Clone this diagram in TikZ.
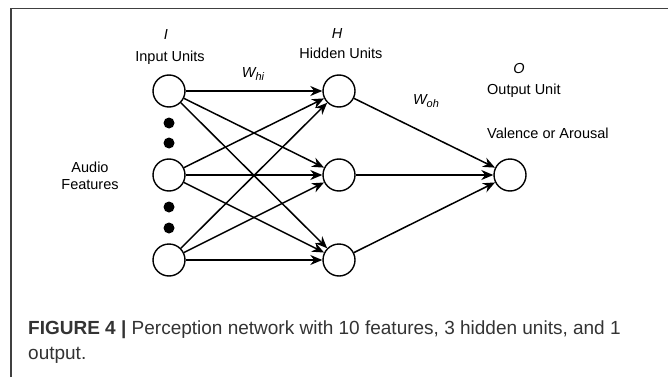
\documentclass[tikz,border=0pt]{standalone}
\usepackage{fontspec}
\setmainfont{Liberation Sans}
\usetikzlibrary{arrows.meta}
\begin{document}
\begin{tikzpicture}[x=1pt,y=-1pt,
  unit/.style={circle, draw, line width=1.4pt, minimum size=32pt, inner sep=0pt},
  bullet/.style={circle, fill, minimum size=11pt, inner sep=0pt},
  conn/.style={line width=1.5pt, -{Stealth[length=12pt,width=10pt]}},
  lbl/.style={inner sep=0pt, font=\fontsize{14.5}{17}\selectfont},
  captext/.style={inner sep=0pt, anchor=base west, text=black!80, font=\fontsize{19}{23}\selectfont},
  frame/.style={line width=1.2pt, draw=black!75}]
\useasboundingbox (0,0) rectangle (668,377);
\draw[frame] (11,377) -- (11,8.5) -- (668,8.5);

% units
\node[unit] (i1) at (169,91) {};
\node[unit] (i2) at (169,175) {};
\node[unit] (i3) at (169,260) {};
\node[unit] (h1) at (339,91) {};
\node[unit] (h2) at (339,175) {};
\node[unit] (h3) at (339,260) {};
\node[unit] (o1) at (510,175) {};

% dots
\node[bullet] (d1) at (169,123) {};
\node[bullet] (d2) at (169,143) {};
\node[bullet] (d3) at (169,207) {};
\node[bullet] (d4) at (169,228) {};

% connectors
\foreach \a in {i1,i2,i3}{
  \foreach \b in {h1,h2,h3}{
    \draw[conn] (\a) -- (\b);
  }
}
\foreach \a in {h1,h2,h3}{
  \draw[conn] (\a) -- (o1);
}

% labels
\node[lbl, font=\fontsize{14.5}{17}\selectfont\itshape] (lI) at (166,35) {I};
\node[lbl] (lIU) at (170,58) {Input Units};
\node[lbl, font=\fontsize{14.5}{17}\selectfont\itshape] (lH) at (337,34) {H};
\node[lbl] (lHU) at (341,53) {Hidden Units};
\node[lbl] (whi) at (253,74) {\itshape W\raisebox{-0.4ex}{\fontsize{11}{12}\selectfont hi}};
\node[lbl] (woh) at (426,101) {\itshape W\raisebox{-0.4ex}{\fontsize{11}{12}\selectfont oh}};
\node[lbl, font=\fontsize{14.5}{17}\selectfont\itshape] (lO) at (519,69) {O};
\node[lbl, anchor=west] (lOU) at (487,91) {Output Unit};
\node[lbl, anchor=west] (lVA) at (487,133) {Valence or Arousal};
\node[lbl, align=center] (lAF) at (90,176) {Audio\\Features};

% caption
\node[captext] (c1) at (28,334.5) {\textbf{FIGURE 4 |} Perception network with 10 features, 3 hidden units, and 1};
\node[captext] (c2) at (28,359.5) {output.};
\end{tikzpicture}
\end{document}
